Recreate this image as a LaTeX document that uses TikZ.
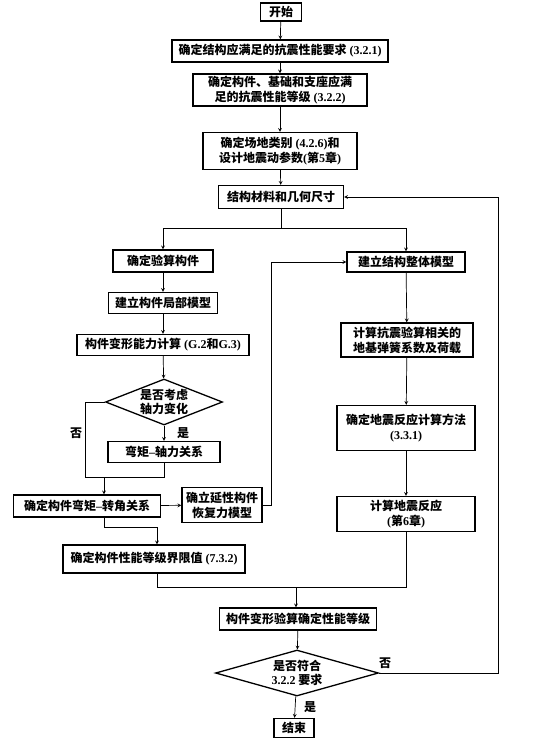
\documentclass[tikz,border=0pt]{standalone}
\usepackage{fontspec}
\setmainfont{Liberation Serif}
\newfontfamily\cjk{Noto Sans CJK SC}
\usetikzlibrary{shapes.geometric}
\newcommand{\num}[1]{{\rmfamily\bfseries #1}}

\begin{document}
\begin{tikzpicture}[x=1pt, y=-1pt, >=stealth, line width=0.7pt,
		box/.style={draw, line width=1.3pt, rectangle, align=center, inner sep=1pt,
			font=\cjk\bfseries\fontsize{12}{15}\selectfont},
		decide/.style={draw, line width=1.3pt, diamond, aspect=2.5, align=center, inner sep=0pt,
			font=\cjk\bfseries\fontsize{12}{14}\selectfont},
		tag/.style={font=\cjk\bfseries\fontsize{12}{14}\selectfont}]
		\useasboundingbox[fill=white] (0,0) rectangle (535,743);

		% Main column
		\node[box, minimum width=41pt, minimum height=18pt] (start) at (281,12) {开始};
		\node[box, minimum width=216pt, minimum height=22pt] (req) at (280,51) {确定结构应满足的抗震性能要求\num{ (3.2.1)}};
		\node[box, minimum width=174pt, minimum height=32pt] (grade) at (280,90) {确定构件、基础和支座应满\\足的抗震性能等级\num{ (3.2.2)}};
		\node[box, minimum width=154pt, minimum height=37pt] (site) at (280,151) {确定场地类别\num{ (4.2.6)}和\\设计地震动参数\num{(}第\num{5}章\num{)}};
		\node[box, minimum width=125pt, minimum height=23pt] (mat) at (281,197) {结构材料和几何尺寸};

		% Left branch
		\node[box, minimum width=100pt, minimum height=22pt] (check) at (163,261) {确定验算构件};
		\node[box, minimum width=109pt, minimum height=21pt] (local) at (163,303) {建立构件局部模型};
		\node[box, minimum width=172pt, minimum height=21pt] (deform) at (163,345) {构件变形能力计算\num{ (G.2}和\num{G.3)}};
		\node[decide, minimum width=117pt, minimum height=46pt] (axq) at (164,402) {是否考虑\\轴力变化};
		\node[box, minimum width=112pt, minimum height=21pt] (mn) at (164,452) {弯矩\num{–}轴力关系};
		\node[box, minimum width=147pt, minimum height=22pt] (mr) at (87,506) {确定构件弯矩\num{–}转角关系};
		\node[box, minimum width=80pt, minimum height=35pt] (hyst) at (222,505) {确立延性构件\\恢复力模型};
		\node[box, minimum width=182pt, minimum height=28pt] (limit) at (154,559) {确定构件性能等级界限值\num{ (7.3.2)}};

		% Right branch
		\node[box, minimum width=118pt, minimum height=20pt] (glob) at (406,262) {建立结构整体模型};
		\node[box, minimum width=132pt, minimum height=34pt] (spring) at (407,340) {计算抗震验算相关的\\地基弹簧系数及荷载};
		\node[box, minimum width=138pt, minimum height=45pt] (method) at (406,428) {确定地震反应计算方法\\\num{(3.3.1)}};
		\node[box, minimum width=138pt, minimum height=35pt] (resp) at (406,514) {计算地震反应\\\num{(}第\num{6}章\num{)}};

		% Bottom
		\node[box, minimum width=157pt, minimum height=22pt] (verify) at (298,619) {构件变形验算确定性能等级};
		\node[decide, minimum width=163pt, minimum height=46pt] (ok) at (297,673) {是否符合\\\num{3.2.2} 要求};
		\node[box, minimum width=40pt, minimum height=19pt] (end) at (294,728) {结束};

		% Labels
		\node[tag] (noA) at (76,433) {否};
		\node[tag] (yesA) at (183,433) {是};
		\node[tag] (noB) at (385,663) {否};
		\node[tag] (yesB) at (310,707) {是};

		% Bend points
		\coordinate (split) at (281,228);
		\coordinate (nobend) at (85,477);
		\coordinate (mergeA) at (104,477);
		\coordinate (limitjoin) at (157,527);
		\coordinate (upline) at (271,262);
		\coordinate (mergeB) at (296,587);
		\coordinate (back) at (498,197);

		% Main column connectors
		\draw[->] (start) -- (req);
		\draw[->] (req) -- (grade);
		\draw[->] (grade) -- (site);
		\draw[->] (site) -- (mat);
		\draw (mat) -- (split);
		\draw[->] (split) -| (check);
		\draw[->] (split) -| (glob);

		% Left branch connectors
		\draw[->] (check) -- (local);
		\draw[->] (local) -- (deform);
		\draw[->] (deform) -- (axq);
		\draw[->] (axq) -- (mn);
		\draw (axq.west) -| (nobend) -- (mergeA);
		\draw (mn.south) |- (mergeA);
		\draw[->] (mergeA) -- (mergeA |- mr.north);
		\draw[->] (mr) -- (hyst);
		\draw[->] (hyst.east) -| (upline) -- (glob.west);
		\draw[->] (mergeA |- mr.south) |- (limitjoin) -- (limitjoin |- limit.north);

		% Right branch connectors
		\draw[->] (glob) -- (spring);
		\draw[->] (spring) -- (method);
		\draw[->] (method) -- (resp);

		% Merge and check
		\draw (limitjoin |- limit.south) |- (mergeB);
		\draw (resp.south) |- (mergeB);
		\draw[->] (mergeB) -- (mergeB |- verify.north);
		\draw[->] (verify) -- (ok);
		\draw[->] (ok) -- (end);
		\draw[->] (ok.east) -| (back) -- (mat.east);
	\end{tikzpicture}
\end{document}
